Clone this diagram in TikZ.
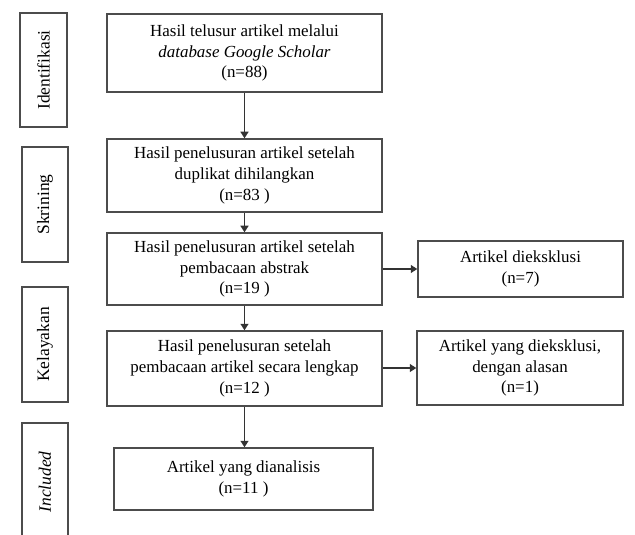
\documentclass[tikz,border=0pt]{standalone}
\usepackage{fontspec}
\setmainfont{Liberation Serif}
\usetikzlibrary{arrows.meta}
\begin{document}
\begin{tikzpicture}[x=1bp,y=-1bp,
  box/.style={draw=black!70,line width=1.5bp,align=center,inner sep=0pt,font=\fontsize{17}{21}\selectfont,execute at begin node={\rule{0pt}{16.5bp}}},
  side/.style={draw=black!70,line width=1.5bp},
  sidetext/.style={rotate=90,font=\fontsize{17.5}{20}\selectfont,inner sep=0pt},
  arr/.style={draw=black!80,line width=1.4bp,-{Triangle[length=6.5bp,width=8bp]}}]
\useasboundingbox (0,0) rectangle (635,535);
% side labels
\node[side,minimum width=47bp,minimum height=114bp] (s1) at (43.5,70) {};
\node[sidetext] (t1) at (s1.center) {Identifikasi};
\node[side,minimum width=46bp,minimum height=115bp] (s2) at (45,204.5) {};
\node[sidetext] (t2) at (s2.center) {Skrining};
\node[side,minimum width=46bp,minimum height=115bp] (s3) at (45,344.5) {};
\node[sidetext] (t3) at (s3.center) {Kelayakan};
\coordinate (s4a) at (22,540);
\coordinate (s4b) at (22,423);
\coordinate (s4c) at (68,423);
\coordinate (s4d) at (68,540);
\draw[side] (s4a) -- (s4b) -- (s4c) -- (s4d);
\node[sidetext] (t4) at (45,482) {\itshape Included};
% main boxes
\node[box,minimum width=275bp,minimum height=78bp] (b1) at (244.5,53) {Hasil telusur artikel melalui\\\textit{database Google Scholar}\\(n=88)};
\node[box,minimum width=275bp,minimum height=73bp] (b2) at (244.5,175.5) {Hasil penelusuran artikel setelah\\duplikat dihilangkan\\(n=83 )};
\node[box,minimum width=275bp,minimum height=72bp] (b3) at (244.5,269) {Hasil penelusuran artikel setelah\\pembacaan abstrak\\(n=19 )};
\node[box,minimum width=275bp,minimum height=75bp] (b4) at (244.5,368.5) {Hasil penelusuran setelah\\pembacaan artikel secara lengkap\\(n=12 )};
\node[box,minimum width=259bp,minimum height=62bp] (b5) at (243.5,479) {Artikel yang dianalisis\\(n=11 )};
% exclusion boxes
\node[box,minimum width=205bp,minimum height=56bp] (e1) at (520.5,269) {Artikel dieksklusi\\(n=7)};
\node[box,minimum width=206bp,minimum height=74bp] (e2) at (520,368) {Artikel yang dieksklusi,\\dengan alasan\\(n=1)};
% arrows
\draw[arr] (b1) -- (b2);
\draw[arr] (b2) -- (b3);
\draw[arr] (b3) -- (b4);
\draw[arr] (b4.south) -- (b4.south |- b5.north);
\draw[arr] (b3) -- (e1);
\draw[arr] (b4.east |- e2.west) -- (e2.west);
\end{tikzpicture}
\end{document}
